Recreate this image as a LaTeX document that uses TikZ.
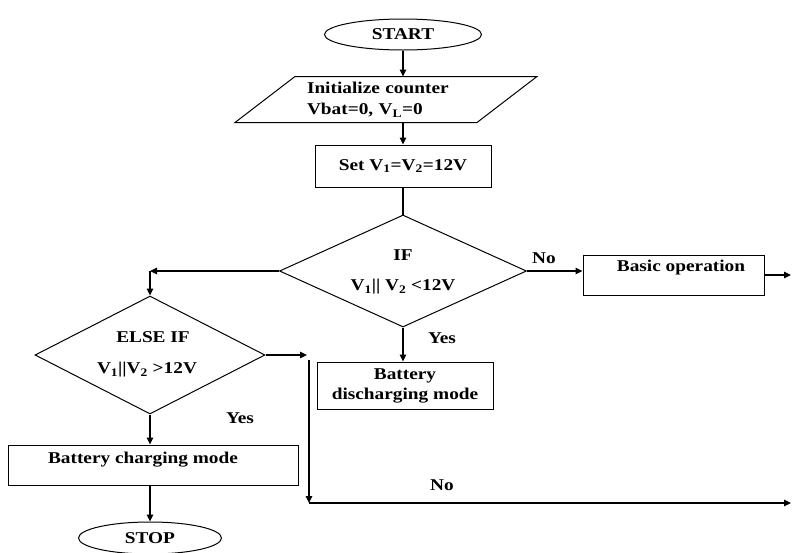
\documentclass[tikz,border=0pt]{standalone}
\usepackage{fontspec}
\setmainfont{Liberation Serif}[FakeStretch=1.17]
\usetikzlibrary{shapes.geometric,arrows.meta}
\tikzset{
  txt/.style={font=\fontsize{16.5}{20}\selectfont\bfseries, inner sep=0pt, text=black},
  box/.style={draw, line width=1pt, rectangle, inner sep=0pt, font=\fontsize{16.5}{20}\selectfont\bfseries, align=center},
  dia/.style={draw, diamond, line width=1pt, inner sep=0pt},
  oval/.style={draw, ellipse, line width=1pt, inner sep=0pt, font=\fontsize{16.5}{20}\selectfont\bfseries},
  arr/.style={-{Triangle[length=7pt,width=6.5pt]}, line width=1.1pt},
  shapeline/.style={line width=1pt}
}
\begin{document}
\begin{tikzpicture}[x=1pt,y=-1pt]
\useasboundingbox (0,0) rectangle (792,552);
% top column
\node[oval, minimum width=157pt, minimum height=31pt] (start) at (403,34.5) {START};
\node[txt, font=\fontsize{16.5}{21}\selectfont\bfseries, text width=192pt, align=left, minimum height=47pt] (init) at (403,100) {Initialize counter\\Vbat=0, V\textsubscript{L}=0};
\draw[shapeline] ([shift={(-168,22.5)}]init.center) -- ([shift={(-108,-23.5)}]init.center) -- ([shift={(134,-23.5)}]init.center) -- ([shift={(74,22.5)}]init.center) -- cycle;
\node[box, minimum width=176pt, minimum height=42pt] (setb) at (403,166) {Set V\textsubscript{1}=V\textsubscript{2}=12V};
\node[dia, minimum width=247pt, minimum height=112pt] (ifd) at (403,271) {};
\node[txt] (iftxt) at (403,255) {IF};
\node[txt] (ifcond) at (403,287) {V\textsubscript{1}|| V\textsubscript{2} <12V};
\node[txt] (no1) at (544,258) {No};
\node[draw, line width=1pt, minimum width=181pt, minimum height=40pt, inner sep=0pt] (basic) at (673.5,275) {};
\node[txt] (basictxt) at (681,268) {Basic operation};
\coordinate (r1) at (791,275);
\node[txt] (yes1) at (442,338) {Yes};
\node[box, minimum width=176pt, minimum height=47pt] (dis) at (405,385.5) {Battery\\discharging mode};
% left column
\coordinate (c1) at (150,271);
\node[dia, minimum width=230pt, minimum height=118pt] (elseif) at (150,355) {};
\node[txt] (eltxt) at (153,337) {ELSE IF};
\node[txt] (elcond) at (147,370) {V\textsubscript{1}||V\textsubscript{2} >12V};
\coordinate (c2) at (307,355);
\coordinate (c3) at (309,360);
\coordinate (c4) at (309,503);
\coordinate (r2) at (791,503);
\node[txt] (no2) at (442,485) {No};
\node[txt] (yes2) at (240,418) {Yes};
\node[draw, line width=1pt, minimum width=290pt, minimum height=40pt, inner sep=0pt] (charge) at (153,465) {};
\node[txt] (chargetxt) at (143,460) {Battery charging mode};
\node[oval, minimum width=143pt, minimum height=32pt] (stop) at (150,538) {STOP};
% connectors
\draw[arr] (start.south) -- ([yshift=23.5pt]start.south |- init.center);
\draw[arr] ([yshift=-22.5pt]init.center) -- (setb.north);
\draw[shapeline, line width=1.1pt] (setb.south) -- (ifd.north);
\draw[arr] (ifd.east) -- (ifd.east -| basic.west);
\draw[arr] (basic.east) -- (r1);
\draw[arr] (ifd.south) -- (ifd.south |- dis.north);
\draw[arr] (ifd.west) -- (c1);
\draw[arr] (c1) -- (elseif.north);
\draw[arr] (elseif.east) -- (c2);
\draw[arr] (c3) -- (c4);
\draw[arr] (c4) -- (r2);
\draw[arr] (elseif.south) -- (elseif.south |- charge.north);
\draw[arr] (charge.south -| stop.north) -- (stop.north);
\end{tikzpicture}
\end{document}
